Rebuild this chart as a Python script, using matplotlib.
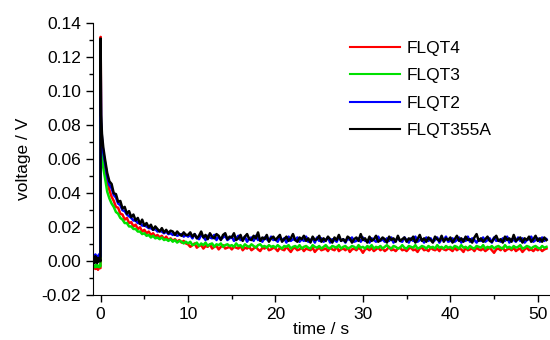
import numpy as np
import matplotlib
matplotlib.use("Agg")
import matplotlib.pyplot as plt
from matplotlib.ticker import MultipleLocator

plt.rcParams.update({
    "font.family": ["Liberation Sans", "DejaVu Sans"],
    "font.size": 12.5,
})

# time grid (s): pre-trigger, fast decay, then every 0.25 s
time_s = np.concatenate([
    [-0.8, -0.7, -0.6, -0.5, -0.4, -0.3, -0.2, -0.1, -0.02],
    [0.0, 0.05, 0.15, 0.3, 0.5, 0.75],
    np.arange(1.0, 51.01, 0.25),
])

# signals, in mV
flqt4_mv = [
    -4, -3.5, -4.5, -3, -4, -5, -3.5, -4, -4,
    132, 80, 70, 62, 56, 47,
    42, 38, 35.5, 32, 31.5, 28, 27.5, 24.5, 25.5, 22.5, 23, 20.5, 21.5, 19, 20, 17.5, 18.5, 16.5,
    17.5, 15.5, 16.5, 14.5, 15.5, 14, 15, 13, 14.5, 12.5, 13.5, 12, 13, 11.5, 12.5, 11, 12, 10.5,
    10.0, 8.5, 9.5, 10.5, 8.0, 9.0, 9.5, 7.5, 9.0, 8.5, 10.0, 7.5, 8.5, 9.0, 7.0, 8.5, 9.5, 7.5, 8.0, 8.5,
    7.0, 8.5, 8.0, 7.5, 9.0, 6.5, 8.0, 7.5, 8.5, 6.5, 7.5, 8.5, 7.0, 6.0, 8.0, 7.5, 8.5, 6.5, 7.0, 8.0,
    7.5, 6.0, 8.0, 7.0, 6.5, 8.5, 7.0, 5.5, 7.5, 8.0, 6.5, 7.0, 8.0, 6.0, 7.5, 7.0, 6.5, 8.0, 5.5, 7.0,
    8.0, 6.5, 7.0, 7.5, 6.0, 8.0, 7.0, 6.5, 8.5, 6.0, 7.0, 7.5, 6.5, 8.0, 5.5, 7.0, 7.5, 6.5, 8.0, 7.0,
    5.0, 7.0, 7.5, 6.5, 8.0, 6.0, 7.0, 8.0, 6.5, 7.5, 6.0, 7.0, 8.5, 6.5, 7.0, 6.0, 7.5, 8.0, 6.5, 7.0,
    6.0, 7.5, 8.0, 6.5, 7.0, 5.5, 7.5, 8.0, 6.5, 7.0, 6.0, 8.0, 7.0, 6.5, 7.5, 6.0, 8.0, 7.0, 6.5, 7.5,
    7.0, 6.0, 8.0, 6.5, 7.5, 7.0, 5.5, 8.0, 6.5, 7.0, 7.5, 6.0, 8.0, 7.0, 6.5, 7.5, 6.0, 7.0, 8.0, 6.5,
    5.0, 7.0, 7.5, 6.5, 8.0, 6.0, 7.0, 7.5, 6.5, 8.0, 6.0, 7.0, 7.5, 5.5, 7.0, 8.0, 6.5, 7.0, 6.0, 7.5,
    6.5, 7.5, 6.0, 7.0, 7.5,
]
flqt3_mv = [
    -3, -2.5, -3.5, -2, -3, -2.5, -3.5, -2.5, -3,
    100, 72, 62, 55, 49, 41,
    37, 34, 32, 29, 28, 25.5, 24.5, 22.5, 22.5, 20.5, 20.5, 19, 19, 17.5, 17.5, 16, 16.5, 15,
    15.5, 14, 15, 13.5, 14, 13, 14, 12.5, 13, 12, 13, 11.5, 12.5, 11, 12, 11.5, 10.5, 11.5,
    10.5, 11.5, 9.5, 10.0, 11.0, 9.0, 10.5, 9.5, 11.0, 9.0, 10.0, 10.5, 8.5, 10.0, 9.5, 10.5, 8.5, 9.5, 10.0, 9.0,
    9.5, 8.5, 10.5, 9.0, 9.5, 8.0, 10.0, 9.0, 8.5, 10.0, 9.0, 8.0, 9.5, 10.0, 8.5, 9.0, 8.0, 9.5, 8.5, 9.0,
    8.0, 9.5, 8.5, 7.5, 9.0, 8.5, 9.5, 7.5, 8.5, 9.0, 8.0, 9.5, 7.5, 8.5, 9.0, 8.0, 7.5, 9.5, 8.5, 8.0,
    9.0, 7.5, 8.5, 9.5, 8.0, 7.5, 9.0, 8.5, 8.0, 9.5, 7.5, 8.5, 9.0, 7.5, 8.0, 9.0, 8.5, 7.5, 9.5, 8.0,
    8.5, 7.5, 9.0, 8.0, 9.5, 7.5, 8.5, 8.0, 9.0, 7.5, 8.5, 9.5, 8.0, 7.5, 9.0, 8.5, 7.5, 8.0, 9.5, 8.0,
    7.5, 9.0, 8.5, 8.0, 9.5, 7.5, 8.0, 9.0, 8.5, 7.5, 9.0, 8.0, 8.5, 7.5, 9.5, 8.0, 8.5, 7.5, 9.0, 8.0,
    8.5, 7.5, 9.0, 8.5, 7.5, 9.5, 8.0, 8.5, 7.5, 9.0, 8.0, 7.5, 9.0, 8.5, 8.0, 9.5, 7.5, 8.5, 8.0, 9.0,
    7.5, 8.5, 9.0, 8.0, 7.5, 9.5, 8.0, 8.5, 7.5, 9.0, 8.0, 8.5, 9.5, 7.5, 8.0, 9.0, 8.5, 7.5, 8.5, 9.0,
    8.0, 7.5, 9.0, 8.0, 8.5,
]
flqt2_mv = [
    3, 1, 4, 2, 3, 1, 4, 2, 3,
    120, 82, 72, 64, 58, 50,
    45, 43, 39, 37.5, 34, 33, 30, 29.5, 27.5, 26.5, 25.5, 24, 24, 22.5, 22.5, 21, 21, 20.5,
    19.5, 19.5, 18.5, 19, 17.5, 18, 17.5, 16.5, 17.5, 16, 16.5, 15.5, 16.5, 15, 15.5, 16, 14.5, 15.5,
    14.5, 15.5, 13.5, 16.0, 14.0, 13.0, 15.5, 14.5, 12.5, 15.0, 14.0, 13.5, 15.5, 12.5, 14.5, 13.0, 14.0, 15.0, 12.5, 13.5,
    14.5, 12.0, 13.5, 15.0, 12.5, 13.0, 14.5, 11.5, 13.5, 14.0, 12.0, 15.0, 12.5, 13.0, 11.5, 14.0, 13.0, 12.0, 14.5, 12.5,
    13.0, 11.5, 14.0, 12.5, 13.5, 11.0, 14.5, 12.0, 13.0, 12.5, 14.0, 11.5, 13.0, 12.0, 14.5, 11.5, 12.5, 13.5, 11.0, 14.0,
    12.0, 13.5, 11.5, 12.5, 14.0, 11.0, 13.0, 12.5, 11.5, 14.5, 12.0, 13.0, 11.0, 13.5, 12.5, 14.0, 11.5, 12.0, 13.5, 11.5,
    14.0, 12.0, 12.5, 11.0, 13.5, 12.5, 11.5, 14.5, 12.0, 13.0, 11.5, 13.5, 12.0, 14.0, 11.0, 12.5, 13.5, 12.0, 11.5, 14.0,
    12.5, 11.0, 13.5, 12.0, 14.5, 11.5, 12.5, 13.0, 11.0, 14.0, 12.0, 13.5, 11.5, 12.5, 14.0, 11.0, 13.0, 12.5, 14.5, 11.5,
    12.0, 13.5, 11.5, 12.5, 14.0, 11.0, 13.0, 12.0, 14.5, 11.5, 13.5, 12.5, 11.0, 13.0, 12.0, 14.0, 11.5, 12.5, 13.5, 11.0,
    14.0, 12.0, 12.5, 11.5, 13.5, 12.0, 14.5, 11.0, 13.0, 12.5, 11.5, 14.0, 12.0, 13.5, 11.0, 12.5, 13.0, 14.5, 11.5, 12.5,
    13.5, 11.5, 14.0, 12.0, 13.0,
]
flqt355a_mv = [
    1, -1, 3, 0, -1, 2, 0, 1, 0,
    131, 86, 75, 67, 60, 52,
    47, 45.5, 40, 39.5, 35, 35.5, 31, 32, 28, 29.5, 26, 27.5, 24, 25.5, 22, 24.5, 21, 22.5,
    20, 21.5, 18.5, 20.5, 19, 17.5, 19.5, 17, 18.5, 16.5, 18, 17.5, 15.5, 17.5, 16, 15, 17, 15.5,
    15.5, 17.0, 14.5, 16.0, 13.5, 15.0, 17.5, 14.0, 15.5, 13.0, 16.5, 14.5, 13.5, 16.0, 15.0, 12.5, 15.5, 16.5, 13.0, 14.5,
    14.0, 16.5, 12.5, 13.5, 15.5, 12.0, 14.5, 16.0, 13.0, 12.5, 15.0, 13.5, 17.0, 12.0, 14.0, 13.0, 15.5, 11.5, 13.5, 14.5,
    12.5, 14.0, 15.5, 11.5, 13.0, 14.5, 12.0, 13.5, 16.0, 12.5, 11.5, 14.0, 13.0, 15.0, 12.0, 13.5, 11.0, 14.5, 12.5, 13.0,
    15.0, 11.5, 13.5, 12.0, 14.5, 13.0, 11.0, 14.0, 12.5, 15.5, 12.0, 13.0, 11.5, 14.5, 13.5, 11.0, 13.0, 14.0, 12.0, 16.0,
    12.5, 13.5, 11.0, 14.5, 12.0, 13.0, 15.0, 11.5, 12.5, 14.0, 13.0, 11.0, 14.5, 12.5, 13.5, 11.5, 15.0, 12.0, 13.0, 14.0,
    11.5, 13.5, 12.5, 14.5, 11.0, 13.0, 15.5, 12.0, 13.5, 11.5, 14.0, 12.5, 11.0, 14.5, 13.0, 12.0, 15.0, 11.5, 13.5, 12.5,
    14.0, 11.0, 13.0, 15.0, 12.0, 13.5, 11.5, 14.5, 12.5, 13.0, 11.0, 14.0, 16.0, 12.0, 13.5, 11.5, 13.0, 14.5, 12.0, 11.5,
    13.5, 15.0, 12.0, 13.0, 11.0, 14.5, 12.5, 13.5, 11.5, 15.5, 12.0, 13.0, 14.0, 11.0, 13.5, 12.5, 14.5, 11.5, 13.0, 15.0,
    12.0, 13.5, 11.5, 14.0, 12.5,
]

series = [
    ("FLQT4", flqt4_mv, "#ff0000"),
    ("FLQT3", flqt3_mv, "#00e000"),
    ("FLQT2", flqt2_mv, "#0000ff"),
    ("FLQT355A", flqt355a_mv, "#000000"),
]

fig = plt.figure(figsize=(5.5, 3.4), dpi=100)
ax = fig.add_axes([0.169, 0.1315, 0.831, 0.80])

for name, vals, color in series:
    ax.plot(time_s, np.array(vals) / 1000.0, color=color, linewidth=1.8, label=name)

ax.set_xlim(-0.88, 51.4)
ax.set_ylim(-0.02, 0.14)
ax.xaxis.set_major_locator(MultipleLocator(10))
ax.xaxis.set_minor_locator(MultipleLocator(5))
ax.yaxis.set_major_locator(MultipleLocator(0.02))
ax.yaxis.set_minor_locator(MultipleLocator(0.01))
ax.yaxis.set_major_formatter(plt.FuncFormatter(lambda v, p: f"{v:.2f}"))
ax.tick_params(which="major", direction="out", length=5, width=1)
ax.tick_params(which="minor", direction="out", length=3, width=1)

ax.spines["top"].set_visible(False)
ax.spines["right"].set_visible(False)

ax.set_xlabel("time / s", labelpad=0)
ax.set_ylabel("voltage / V", labelpad=8)

leg = ax.legend(loc="upper left", bbox_to_anchor=(0.562, 0.935), frameon=False,
                handlelength=2.9, handletextpad=0.35, labelspacing=0.7,
                borderpad=0, borderaxespad=0)
for line in leg.get_lines():
    line.set_linewidth(1.5)

fig.savefig("out.png", dpi=100)
